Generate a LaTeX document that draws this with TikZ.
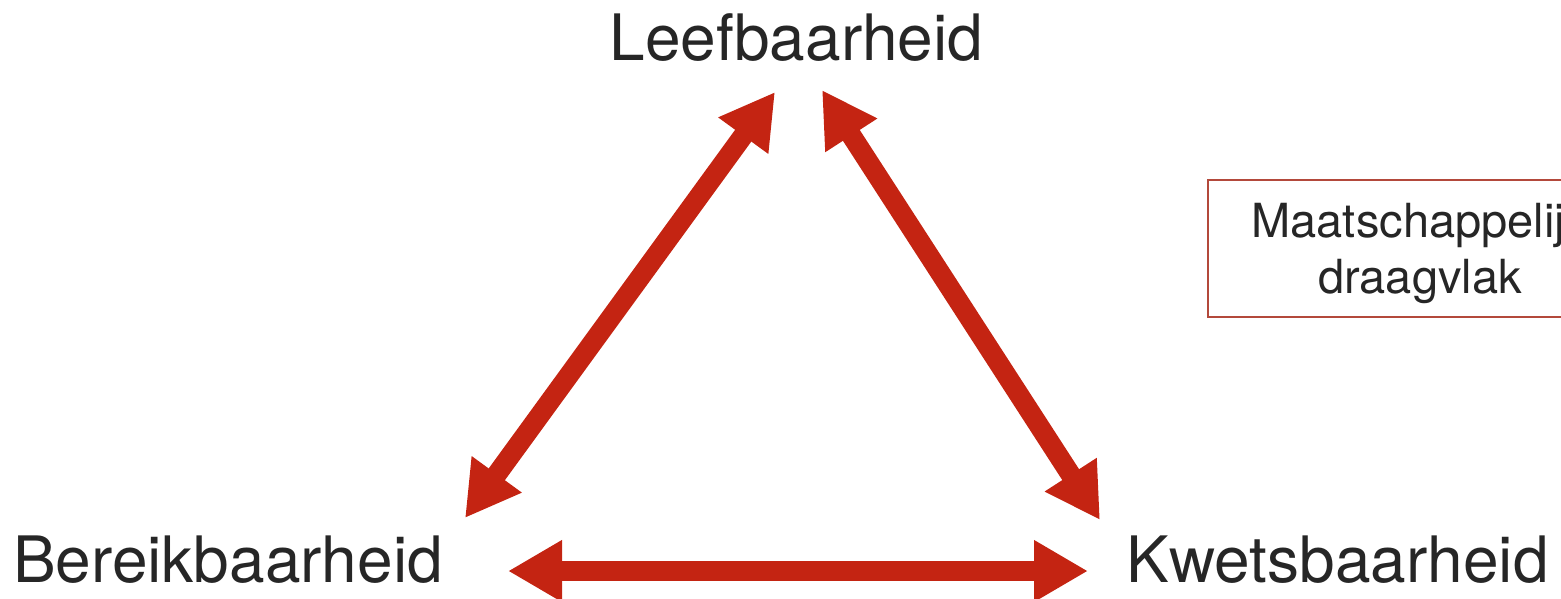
\documentclass[tikz,border=0pt]{standalone}
\usepackage{fontspec}
\setmainfont{TeX Gyre Heros}
\usetikzlibrary{arrows.meta}
\definecolor{arrowred}{HTML}{C42412}
\definecolor{textgray}{HTML}{262626}
\definecolor{boxred}{HTML}{B3493B}
\tikzset{
  label/.style={inner sep=0pt, anchor=base, text=textgray, font=\fontsize{64}{70}\selectfont},
  boxtext/.style={inner sep=0pt, anchor=base, text=textgray, font=\fontsize{47}{56}\selectfont},
  framebox/.style={draw=boxred, line width=1.6pt, minimum width=424pt, minimum height=137pt, inner sep=0pt},
  bigarrow/.style={draw=arrowred, line width=20pt, line cap=butt,
    {Triangle[length=54pt,width=58pt]}-{Triangle[length=54pt,width=58pt]}}
}
\begin{document}
\begin{tikzpicture}[x=1pt,y=-1pt]
\useasboundingbox (0,0) rectangle (1561,598);
\node[label] (leef) at (796.5,60) {Leefbaarheid};
\node[label] (ber) at (228,582) {Bereikbaarheid};
\node[label] (kwe) at (1337.5,582) {Kwetsbaarheid};
\node[framebox] (maat) at (1420,248.5) {};
\node[boxtext] (maat1) at (1420,237) {Maatschappelijk};
\node[boxtext] (maat2) at (1420,293) {draagvlak};
\coordinate (lt1) at (775,92);
\coordinate (lb1) at (465,518);
\coordinate (rt1) at (822,90);
\coordinate (rb1) at (1100,520);
\coordinate (hl) at (508,571);
\coordinate (hr) at (1088,571);
\draw[bigarrow] (lb1) -- (lt1);
\draw[bigarrow] (rt1) -- (rb1);
\draw[bigarrow] (hl) -- (hr);
\end{tikzpicture}
\end{document}
